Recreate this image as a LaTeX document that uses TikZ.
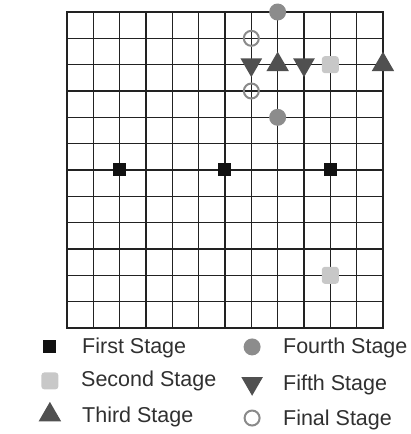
\documentclass[tikz,border=0pt]{standalone}
\usepackage{fontspec}
\setmainfont{Liberation Sans}
\usepackage{xcolor}
\usetikzlibrary{shapes.geometric}
\definecolor{firstgray}{HTML}{111111}
\definecolor{secondgray}{HTML}{C8C8C8}
\definecolor{thirdgray}{HTML}{505050}
\definecolor{fourthgray}{HTML}{8C8C8C}
\definecolor{finalgray}{HTML}{8A8A8A}
\definecolor{gridgray}{HTML}{222222}
\definecolor{labelgray}{HTML}{303030}

\tikzset{
  firstmark/.style={draw=none,fill=firstgray,rectangle,minimum size=13pt,inner sep=0pt},
  secondmark/.style={draw=none,fill=secondgray,rectangle,rounded corners=3pt,minimum size=17pt,inner sep=0pt},
  thirdmark/.style={draw=none,fill=thirdgray,regular polygon,regular polygon sides=3,minimum size=26pt,inner sep=0pt},
  fourthmark/.style={draw=none,fill=fourthgray,circle,minimum size=17pt,inner sep=0pt},
  fifthmark/.style={draw=none,fill=thirdgray,regular polygon,regular polygon sides=3,shape border rotate=180,minimum size=25pt,inner sep=0pt},
  finalmark/.style={draw=finalgray,line width=2pt,circle,minimum size=15pt,inner sep=0pt},
  legendtext/.style={anchor=west,inner sep=0pt,text=labelgray,font=\fontsize{21.5}{25}\selectfont}
}

\begin{document}
\begin{tikzpicture}[x=26.33pt,y=-26.33pt]
  \useasboundingbox (-2.545,-0.456) rectangle (13.027,16.027);
  % grid
  \foreach \i in {1,...,11} {
    \draw[gridgray,line width=1.5pt] (\i,0) -- (\i,12);
    \draw[gridgray,line width=1.5pt] (0,\i) -- (12,\i);
  }
  \draw[gridgray,line width=2.6pt] (0,0) rectangle (12,12);

  % stages on the grid
  \node[firstmark] (f1) at (2,6) {};
  \node[firstmark] (f2) at (6,6) {};
  \node[firstmark] (f3) at (10,6) {};
  \node[secondmark] (s1) at (10,2) {};
  \node[secondmark] (s2) at (10,10) {};
  \node[thirdmark] (t1) at (8,2) {};
  \node[thirdmark] (t2) at (12,2) {};
  \node[fourthmark] (r1) at (8,0) {};
  \node[fourthmark] (r2) at (8,4) {};
  \node[fifthmark] (v1) at (7,2) {};
  \node[fifthmark] (v2) at (9,2) {};
  \node[finalmark] (e1) at (7,1) {};
  \node[finalmark] (e2) at (7,3) {};

  % legend
  \node[firstmark] (lf) at (-0.65,12.72) {};
  \node[legendtext] (lft) at (0.57,12.76) {First Stage};
  \node[secondmark] (ls) at (-0.65,14.01) {};
  \node[legendtext] (lst) at (0.53,14.01) {Second Stage};
  \node[thirdmark] (lt) at (-0.65,15.3) {};
  \node[legendtext] (ltt) at (0.57,15.38) {Third Stage};
  \node[fourthmark] (lr) at (7.03,12.72) {};
  \node[legendtext] (lrt) at (8.2,12.76) {Fourth Stage};
  \node[fifthmark] (lv) at (7.03,14.1) {};
  \node[legendtext] (lvt) at (8.2,14.17) {Fifth Stage};
  \node[finalmark] (le) at (7.03,15.42) {};
  \node[legendtext] (let) at (8.2,15.5) {Final Stage};
\end{tikzpicture}
\end{document}
